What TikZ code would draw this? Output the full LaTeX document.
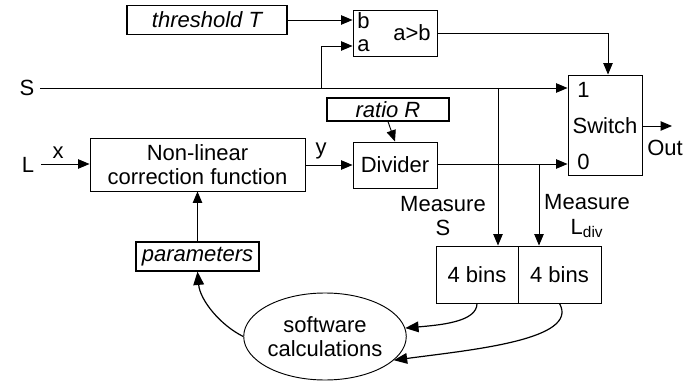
\documentclass[tikz,border=0pt]{standalone}
\usepackage{fontspec}
\setmainfont{Liberation Sans}
\usetikzlibrary{arrows.meta,shapes.geometric}
\begin{document}
\begin{tikzpicture}[x=0.75pt,y=-0.75pt,
  every node/.style={font=\fontsize{16.5}{18.5}\selectfont},
  blk/.style={draw,line width=0.7pt,inner sep=0pt,align=center},
  pbox/.style={draw,line width=0.9pt,inner sep=0pt,font=\fontsize{16.5}{18.5}\selectfont\itshape},
  lbl/.style={inner sep=0pt},
  wire/.style={line width=0.7pt},
  arr/.style={line width=0.7pt,-{Triangle[length=8.5pt,width=7pt]}},
  carr/.style={line width=0.9pt,-{Triangle[length=10pt,width=8pt]}}]
\useasboundingbox (0,0) rectangle (696,381);
% blocks
\node[pbox,minimum width=120pt,minimum height=21.75pt] (thr) at (207,20) {threshold T};
\node[blk,minimum width=63pt,minimum height=34.5pt] (cmp) at (395,33) {};
\node[lbl,anchor=west] (cb) at (357,21) {b};
\node[lbl,anchor=west] (ca) at (357,46) {a};
\node[lbl] (cab) at (412,33) {a>b};
\node[blk,minimum width=55.5pt,minimum height=75pt] (sw) at (605,125) {};
\node[lbl,anchor=west] (s1) at (577,90) {1};
\node[lbl] (sws) at (605,126) {Switch};
\node[lbl,anchor=west] (s0) at (577,162) {0};
\node[pbox,minimum width=91.5pt,minimum height=17.25pt] (ratio) at (388,109.5) {ratio R};
\node[blk,minimum width=63pt,minimum height=34.5pt] (div) at (395,165) {Divider};
\node[blk,minimum width=161.25pt,minimum height=39.75pt] (nl) at (197.5,164.5) {Non-linear\\correction function};
\node[pbox,minimum width=92.25pt,minimum height=21.75pt] (par) at (197.5,256.5) {parameters};
\node[blk,minimum width=61.5pt,minimum height=42.75pt] (b1) at (477,274.5) {4 bins};
\node[blk,minimum width=62.25pt,minimum height=42.75pt] (b2) at (559.5,274.5) {4 bins};
\node[draw,ellipse,line width=0.7pt,inner sep=0pt,minimum width=105pt,minimum height=65.25pt,align=center] (ell) at (325,336.5) {software\\calculations};
% labels
\node[lbl] (S) at (27,88) {S};
\node[lbl] (L) at (28,165) {L};
\node[lbl] (xl) at (58,153) {x};
\node[lbl] (yl) at (321,151) {y};
\node[lbl] (out) at (665,148) {Out};
\node[lbl,align=center] (mS) at (443,216) {Measure\\S};
\node[lbl,align=center] (mL) at (587,216) {Measure\\L\textsubscript{div}};
% coordinates
\coordinate (Sst) at (40,88);
\coordinate (Sbr) at (321,88);
\coordinate (Sms) at (498,88);
\coordinate (Lst) at (41,164);
\coordinate (Lms) at (539,164);
\coordinate (oend) at (672,126);
% connectors
\draw[arr] (thr.east) -- (thr.east -| cmp.west);
\draw[arr] (Sbr) |- (cmp.west |- ca);
\draw[arr] (Sst) -- (Sst -| sw.west);
\draw[arr] (cmp.east |- cab) -| (sw.north -| 608,0);
\draw[arr] (ratio.south) -- (div.north);
\draw[arr] (Lst) -- (nl.west |- Lst);
\draw[arr] (nl.east |- div.west) -- (div.west);
\draw[arr] (div.east |- Lms) -- (sw.west |- Lms);
\draw[arr] (sw.east |- oend) -- (oend);
\draw[arr] (Sms) -- (Sms |- b1.north);
\draw[arr] (Lms) -- (Lms |- b1.north);
\draw[arr] (par.north) -- (nl.south);
\draw[carr] (ell.west) .. controls (220,325) and (200,300) .. (par.south);
\draw[carr] (b1.south) .. controls (477,322) and (440,325) .. (ell.6);
\draw[carr] (b2.south) .. controls (580,340) and (470,350) .. (ell.-19);
\end{tikzpicture}
\end{document}
